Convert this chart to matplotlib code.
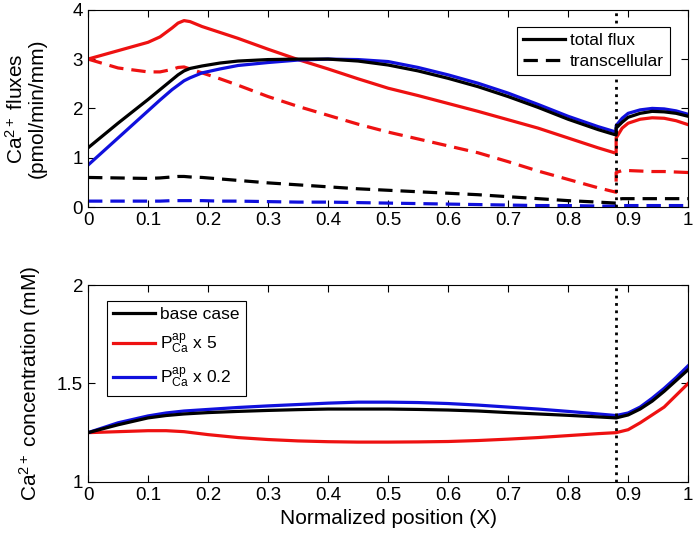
import matplotlib
matplotlib.use("Agg")
import matplotlib.pyplot as plt

plt.rcParams['font.family'] = ['Liberation Sans', 'DejaVu Sans']
plt.rcParams['mathtext.fontset'] = 'custom'
plt.rcParams['mathtext.rm'] = 'Liberation Sans'
plt.rcParams['mathtext.it'] = 'Liberation Sans'

# ---- top panel: Ca2+ fluxes ----
x_flux = [0, 0.05, 0.1, 0.12, 0.14, 0.15, 0.16, 0.17, 0.19, 0.22, 0.25, 0.3, 0.35, 0.4, 0.45,
          0.5, 0.55, 0.6, 0.65, 0.7, 0.75, 0.8, 0.85, 0.88,
          0.88, 0.89, 0.9, 0.92, 0.94, 0.96, 0.98, 1.0]
total_base = [1.2, 1.7, 2.18, 2.38, 2.58, 2.68, 2.76, 2.81, 2.86, 2.92, 2.96, 2.99, 3.0, 3.0, 2.96,
              2.88, 2.76, 2.61, 2.44, 2.24, 2.02, 1.78, 1.57, 1.46,
              1.6, 1.72, 1.82, 1.9, 1.94, 1.93, 1.9, 1.84]
total_x5 = [3.0, 3.17, 3.34, 3.45, 3.63, 3.73, 3.78, 3.76, 3.66, 3.54, 3.42, 3.2, 2.99, 2.8, 2.6,
            2.41, 2.26, 2.1, 1.94, 1.77, 1.6, 1.4, 1.2, 1.09,
            1.4, 1.6, 1.7, 1.78, 1.81, 1.8, 1.75, 1.67]
total_x02 = [0.85, 1.4, 1.95, 2.17, 2.38, 2.47, 2.56, 2.62, 2.72, 2.8, 2.87, 2.93, 2.98, 3.0, 2.99,
             2.95, 2.83, 2.68, 2.51, 2.31, 2.08, 1.84, 1.63, 1.52,
             1.65, 1.8, 1.9, 1.97, 2.0, 1.99, 1.95, 1.88]
trans_base = [0.6, 0.59, 0.58, 0.59, 0.61, 0.62, 0.62, 0.61, 0.6, 0.57, 0.54, 0.49, 0.45, 0.41, 0.37,
              0.34, 0.31, 0.28, 0.25, 0.21, 0.17, 0.13, 0.1, 0.08,
              0.15, 0.17, 0.17, 0.17, 0.17, 0.17, 0.17, 0.17]
trans_x5 = [3.0, 2.82, 2.74, 2.74, 2.79, 2.83, 2.84, 2.8, 2.72, 2.6, 2.47, 2.24, 2.04, 1.86, 1.68,
            1.52, 1.38, 1.24, 1.1, 0.92, 0.73, 0.56, 0.39, 0.3,
            0.7, 0.74, 0.74, 0.73, 0.72, 0.72, 0.71, 0.7]
trans_x02 = [0.12, 0.12, 0.12, 0.12, 0.13, 0.13, 0.13, 0.13, 0.13, 0.12, 0.12, 0.11, 0.1, 0.1, 0.09,
             0.08, 0.07, 0.06, 0.05, 0.04, 0.03, 0.03, 0.02, 0.02,
             0.03, 0.03, 0.03, 0.03, 0.03, 0.03, 0.03, 0.03]

# ---- bottom panel: Ca2+ concentration ----
x_conc = [0, 0.05, 0.1, 0.13, 0.16, 0.2, 0.25, 0.3, 0.35, 0.4, 0.45, 0.5, 0.55, 0.6, 0.65,
          0.7, 0.75, 0.8, 0.85, 0.88, 0.9, 0.92, 0.94, 0.96, 0.98, 1.0]
conc_base = [1.25, 1.29, 1.325, 1.337, 1.345, 1.352, 1.358, 1.363, 1.367, 1.37, 1.37, 1.37, 1.368,
             1.365, 1.36, 1.352, 1.345, 1.338, 1.33, 1.325, 1.34, 1.37, 1.41, 1.46, 1.515, 1.57]
conc_x5 = [1.25, 1.255, 1.26, 1.26, 1.255, 1.24, 1.225, 1.215, 1.208, 1.204, 1.202, 1.202, 1.203,
           1.205, 1.21, 1.217, 1.225, 1.235, 1.245, 1.25, 1.265, 1.3, 1.34, 1.38, 1.44, 1.5]
conc_x02 = [1.25, 1.3, 1.335, 1.35, 1.36, 1.368, 1.378, 1.386, 1.393, 1.4, 1.405, 1.405, 1.403,
            1.398, 1.39, 1.38, 1.37, 1.358, 1.345, 1.337, 1.35, 1.38, 1.425, 1.475, 1.53, 1.59]

x_boundary = 0.88
xticks = [0, 0.1, 0.2, 0.3, 0.4, 0.5, 0.6, 0.7, 0.8, 0.9, 1]
xticklabels = ['0', '0.1', '0.2', '0.3', '0.4', '0.5', '0.6', '0.7', '0.8', '0.9', '1']

RED = '#ee1111'
BLUE = '#1010dd'
LW = 2.3
DASH = (0, (4.5, 2.5))

fig = plt.figure(figsize=(6.93, 5.42), dpi=100)
ax1 = fig.add_axes([0.127, 0.618, 0.866, 0.364])
ax2 = fig.add_axes([0.127, 0.111, 0.866, 0.363])

def style(ax):
    ax.tick_params(direction='in', top=True, right=True, labelsize=13.5, length=5, width=0.8)
    for s in ax.spines.values():
        s.set_linewidth(0.8)
    ax.set_xlim(0, 1)
    ax.set_xticks(xticks)
    ax.set_xticklabels(xticklabels)

legkw = dict(fontsize=12.5, fancybox=False, edgecolor='black', framealpha=1,
             handlelength=2.4, borderpad=0.35, handletextpad=0.3, borderaxespad=0)

# top
ax1.plot(x_flux, total_x5, color=RED, lw=LW)
ax1.plot(x_flux, trans_x5, color=RED, lw=LW, ls=DASH)
ax1.plot(x_flux, total_x02, color=BLUE, lw=LW)
ax1.plot(x_flux, trans_x02, color=BLUE, lw=LW, ls=DASH)
ax1.plot(x_flux, total_base, color='black', lw=LW)
ax1.plot(x_flux, trans_base, color='black', lw=LW, ls=DASH)
ax1.axvline(x_boundary, color='black', ls=':', lw=2)
ax1.set_ylim(0, 4)
ax1.set_yticks([0, 1, 2, 3, 4])
style(ax1)
ax1.set_ylabel('Ca$^{2+}$ fluxes\n(pmol/min/mm)', fontsize=15, linespacing=1.1)
h1, = ax1.plot([], [], color='black', lw=LW)
h2, = ax1.plot([], [], color='black', lw=LW, ls=DASH)
leg1 = ax1.legend([h1, h2], ['total flux', 'transcellular'], loc='upper right',
                  bbox_to_anchor=(0.97, 0.915), labelspacing=0.35, **legkw)
leg1.get_frame().set_linewidth(0.8)

# bottom
ax2.plot(x_conc, conc_x5, color=RED, lw=LW, label='P$_{\\rm Ca}^{\\rm ap}$ x 5')
ax2.plot(x_conc, conc_x02, color=BLUE, lw=LW, label='P$_{\\rm Ca}^{\\rm ap}$ x 0.2')
ax2.plot(x_conc, conc_base, color='black', lw=LW, label='base case')
ax2.axvline(x_boundary, color='black', ls=':', lw=2)
ax2.set_ylim(1, 2)
ax2.set_yticks([1, 1.5, 2])
ax2.set_yticklabels(['1', '1.5', '2'])
style(ax2)
ax2.set_ylabel('Ca$^{2+}$ concentration (mM)', fontsize=15)
ax2.set_xlabel('Normalized position (X)', fontsize=15)
handles, labels = ax2.get_legend_handles_labels()
order = [2, 0, 1]
leg2 = ax2.legend([handles[i] for i in order], [labels[i] for i in order], loc='upper left',
                  bbox_to_anchor=(0.032, 0.92), labelspacing=0.55, **legkw)
leg2.get_frame().set_linewidth(0.8)

ax1.yaxis.set_label_coords(-0.068, 0.5)
ax2.yaxis.set_label_coords(-0.075, 0.5)

fig.savefig('out.png', dpi=100)
